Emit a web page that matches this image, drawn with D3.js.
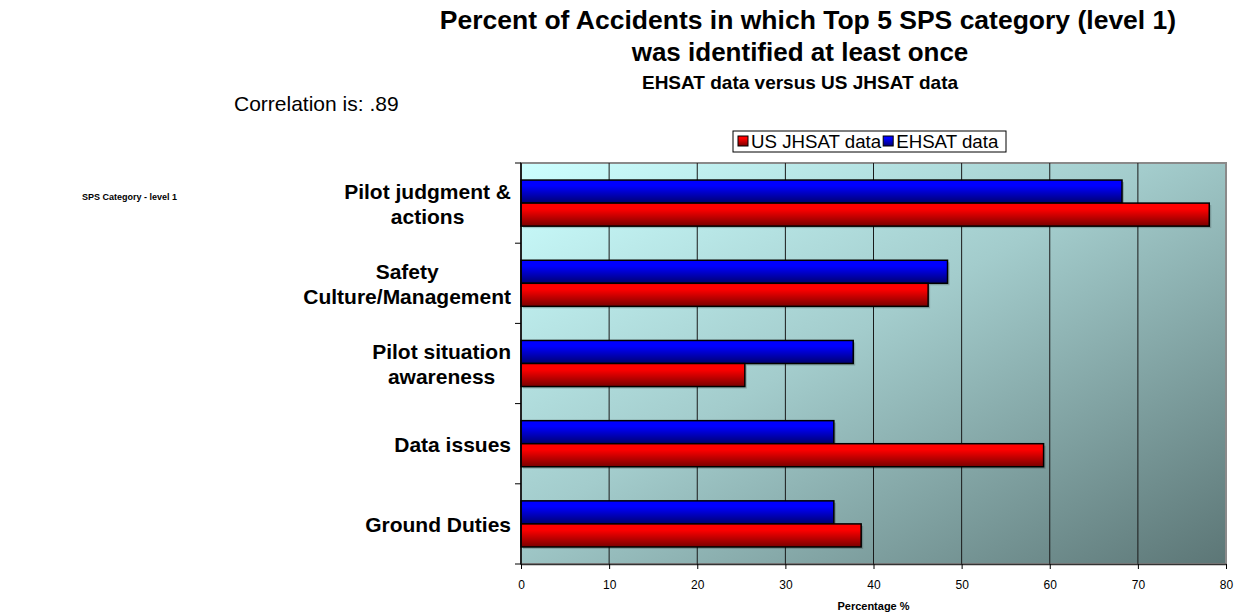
<!DOCTYPE html>
<html><head><meta charset="utf-8">
<script src="https://cdn.jsdelivr.net/npm/d3@7"></script>
<style>body{margin:0;background:#fff}svg{display:block;font-family:"Liberation Sans",Arial,sans-serif}</style>
</head><body><svg id="c" width="1237" height="616"></svg>
<script>
const categories = [["Pilot judgment &","actions"],["Safety","Culture/Management"],["Pilot situation","awareness"],["Data issues"],["Ground Duties"]];
const seriesNames = ["EHSAT data","US JHSAT data"];
const ehsat = [68.2, 48.4, 37.7, 35.5, 35.5];
const usjhsat = [78.1, 46.2, 25.4, 59.3, 38.6];
const xTicks = [0,10,20,30,40,50,60,70,80];

const svg = d3.select("#c");
const M = {left:521, right:1226, top:163, bottom:564};
const catKeys = categories.map(c=>c.join(" "));
const x = d3.scaleLinear().domain([0,80]).range([M.left, M.right]);
const y0 = d3.scaleBand().domain(catKeys).range([M.top, M.bottom]).padding(0);
const y1 = d3.scaleBand().domain(seriesNames).range([0, y0.bandwidth()]).paddingInner(0).paddingOuter(0.74);

const defs = svg.append("defs");
const bg = defs.append("linearGradient").attr("id","bg").attr("x1",0).attr("y1",0).attr("x2",1).attr("y2",1);
bg.append("stop").attr("offset",0).attr("stop-color","#ccffff");
bg.append("stop").attr("offset",0.45).attr("stop-color","#a3cccc");
bg.append("stop").attr("offset",1).attr("stop-color","#5c7676");
function vgrad(id, c1, c2){
  const g = defs.append("linearGradient").attr("id",id).attr("x1",0).attr("y1",0).attr("x2",0).attr("y2",1);
  g.append("stop").attr("offset",0).attr("stop-color",c1);
  g.append("stop").attr("offset",0.25).attr("stop-color",c1);
  g.append("stop").attr("offset",1).attr("stop-color",c2);
}
vgrad("gb","#0000ff","#000070");
vgrad("gr","#ff0000","#7a0000");
const colors = {"EHSAT data":"url(#gb)","US JHSAT data":"url(#gr)"};
const vals = {"EHSAT data":ehsat,"US JHSAT data":usjhsat};

// plot area
svg.append("rect").attr("x",M.left).attr("y",M.top).attr("width",M.right-M.left).attr("height",M.bottom-M.top)
  .attr("fill","url(#bg)").attr("stroke","#8a8a8a").attr("stroke-width",2);

// gridlines
svg.append("g").selectAll("line").data(xTicks.filter(d=>d>0&&d<80)).join("line")
  .attr("x1",d=>x(d)).attr("x2",d=>x(d)).attr("y1",M.top).attr("y2",M.bottom)
  .attr("stroke","#1a1a1a").attr("stroke-width",1);

// bars
const rows = [];
catKeys.forEach((k,i)=>seriesNames.forEach(s=>rows.push({k, s, v: vals[s][i]})));
svg.append("g").selectAll("rect.sh").data(rows).join("rect")
  .attr("x",x(0)+2).attr("y",d=>y0(d.k)+y1(d.s)+2)
  .attr("width",d=>x(d.v)-x(0)).attr("height",y1.bandwidth())
  .attr("fill","#000").attr("opacity",0.18);
svg.append("g").selectAll("rect.b").data(rows).join("rect")
  .attr("x",x(0)).attr("y",d=>y0(d.k)+y1(d.s))
  .attr("width",d=>x(d.v)-x(0)).attr("height",y1.bandwidth())
  .attr("fill",d=>colors[d.s]).attr("stroke","#000").attr("stroke-width",1.5);

// axes lines
svg.append("line").attr("x1",M.left).attr("x2",M.left).attr("y1",M.top).attr("y2",M.bottom).attr("stroke","#000").attr("stroke-width",1.5);
const xa = svg.append("g").attr("transform",`translate(0,${M.bottom})`)
  .call(d3.axisBottom(x).tickValues(xTicks).tickSize(5).tickSizeOuter(0));
xa.select(".domain").attr("stroke","#333").attr("stroke-width",1.5);
xa.selectAll(".tick line").attr("stroke","#000");
xa.selectAll(".tick text").attr("font-size",12).attr("font-family","Liberation Sans, Arial, sans-serif").attr("fill","#000").attr("dy","1.4em");

// y ticks at band boundaries
const bounds = catKeys.map(k=>y0(k)).concat([M.bottom]);
svg.append("g").selectAll("line").data(bounds).join("line")
  .attr("x1",M.left-6).attr("x2",M.left).attr("y1",d=>d).attr("y2",d=>d).attr("stroke","#000").attr("stroke-width",1);

// category labels
const lab = svg.append("g").attr("font-size",21).attr("font-weight","bold").attr("fill","#000");
categories.forEach((lines,i)=>{
  const cy = y0(catKeys[i]) + y0.bandwidth()/2;
  const lh = 25;
  const g = lab.append("g");
  const texts = lines.map((t,j)=>g.append("text").attr("y", cy + 8 - (lines.length-1)*lh/2 + j*lh).text(t));
  const widths = texts.map(t=>t.node().getComputedTextLength());
  const maxW = d3.max(widths);
  const center = 511 - maxW/2;
  texts.forEach(t=>t.attr("x",center).attr("text-anchor","middle"));
});

// titles
svg.append("text").attr("x",808).attr("y",29).attr("text-anchor","middle").attr("font-size",26.5).attr("font-weight","bold")
  .text("Percent of Accidents in which Top 5 SPS category (level 1)");
svg.append("text").attr("x",800).attr("y",61).attr("text-anchor","middle").attr("font-size",26).attr("font-weight","bold")
  .text("was identified at least once");
svg.append("text").attr("x",800).attr("y",89).attr("text-anchor","middle").attr("font-size",19).attr("font-weight","bold")
  .text("EHSAT data versus US JHSAT data");
svg.append("text").attr("x",234).attr("y",111).attr("font-size",21)
  .text("Correlation is: .89");
svg.append("text").attr("x",82).attr("y",200).attr("font-size",9).attr("font-weight","bold")
  .text("SPS Category - level 1");
svg.append("text").attr("x",x(40)).attr("y",610).attr("text-anchor","middle").attr("font-size",11).attr("font-weight","bold")
  .text("Percentage %");

// legend
const leg = svg.append("g");
leg.append("rect").attr("x",733).attr("y",131).attr("width",273).attr("height",21).attr("fill","#fff").attr("stroke","#000").attr("stroke-width",1);
const legItems = ["US JHSAT data","EHSAT data"];
let lx = 738;
legItems.forEach(s=>{
  leg.append("rect").attr("x",lx).attr("y",136).attr("width",10).attr("height",10).attr("fill",colors[s]).attr("stroke","#000").attr("stroke-width",1);
  const t = leg.append("text").attr("x",lx+13).attr("y",148).attr("font-size",18.7).text(s);
  lx += 13 + t.node().getComputedTextLength() + 2;
});
</script></body></html>
